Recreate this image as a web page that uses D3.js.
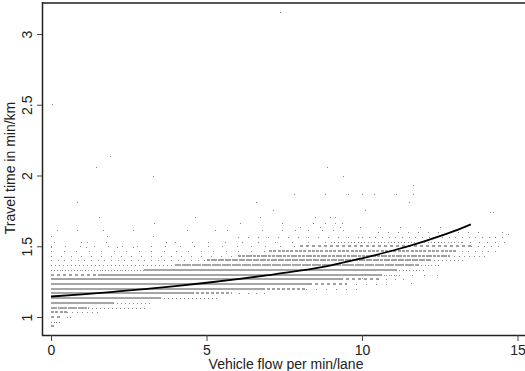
<!DOCTYPE html>
<head>
  <meta charset="utf-8">
  <style>
  body { margin: 0; background: #fff; }
  * { font-family: "Liberation Sans", Arial, sans-serif; }
  .tick text { font-size: 14px; fill: #222; }
  .row { fill: none; shape-rendering: crispEdges; }
  .dot { fill: #888; shape-rendering: crispEdges; }
  .fit { fill: none; stroke: #000; stroke-width: 1.8; }
  </style>
  <title>Travel time vs flow</title>
</head>
<body>
<svg width="525" height="371"></svg>
<script src="https://d3js.org/d3.v7.min.js"></script>
<script>
// travel time levels are in steps of 2 seconds; each row lists [flowFrom, flowTo, density]
var rowSeconds = [56, 58, 60, 62, 64, 66, 68, 70, 72, 74, 76, 78, 80, 82, 84, 86, 88, 90, 92, 94, 96, 98];
var rowSegments = [
  [[0, 0.15, 0.5]],
  [[0, 0.3, 0.4]],
  [[0, 0.3, 0.5], [0.5, 0.6, 0.4]],
  [[0, 0.5, 0.7], [0.5, 1.5, 0.2]],
  [[0, 1.2, 0.9], [1.2, 3.0, 0.25]],
  [[0, 2.0, 0.95], [2.0, 3.2, 0.25]],
  [[0, 3.5, 0.95], [3.5, 5.3, 0.25]],
  [[0, 4.5, 1], [4.5, 5.8, 0.6], [5.8, 7, 0.12]],
  [[0, 6.8, 1], [6.8, 8.2, 0.6], [8.2, 10, 0.1]],
  [[0, 8.3, 1], [8.3, 9.5, 0.5], [9.5, 11, 0.1]],
  [[0, 9.3, 1], [9.3, 10.5, 0.5], [10.5, 11.5, 0.12]],
  [[0, 1.5, 0.5], [1.5, 10.6, 1], [10.6, 11.2, 0.4], [11.2, 12.5, 0.08]],
  [[0, 3, 0.35], [3, 11.1, 0.95], [11.1, 12, 0.3]],
  [[0, 4, 0.25], [4, 11.8, 0.9], [11.8, 12.5, 0.3]],
  [[0, 5, 0.15], [5, 12.2, 0.85], [12.2, 13.2, 0.25]],
  [[0, 6, 0.1], [6, 12.8, 0.8], [12.8, 14, 0.2]],
  [[0, 7, 0.08], [7, 13, 0.7], [13, 14.3, 0.15]],
  [[0, 8, 0.07], [8, 13.5, 0.5], [13.5, 14.5, 0.15]],
  [[4, 9, 0.06], [9, 13.2, 0.3], [13.2, 14.6, 0.12]],
  [[6, 10, 0.1], [10, 14.7, 0.15]],
  [[10.5, 14, 0.1]],
  [[8, 13, 0.05]]
];

// scattered single observations
var outFlow = [0.03, 1.9, 1.45, 3.29, 7.36, 8.86, 9.4, 11.63,
  7.81, 8.81, 9.54, 9.99, 10.4, 11.08, 11.63, 11.5, 10.1, 14.1, 14.2,
  0.83, 1.53, 3.31, 0.2, 0.83, 1.68, 2.65, 0.01, 1.79, 3.27, 0.1, 0.95, 1.17, 1.77, 3.7, 0, 1.14, 2.13, 2.65,
  6.6, 7.15, 4.63, 6.72, 8.49, 8.97, 9.13, 6.08, 7.42, 8.43, 8.81, 9.13, 9.35,
  4.36, 5.27, 5.65, 6.77, 7.42, 7.85, 8.26, 8.7, 9.08, 9.4, 9.99, 11.57, 14.5, 14.7];
var outTime = [2.505, 2.14, 2.062, 2.0, 3.155, 2.062, 2.0, 1.93,
  1.867, 1.867, 1.867, 1.867, 1.867, 1.867, 1.867, 1.815, 1.756, 1.745, 1.74,
  1.815, 1.705, 1.667, 1.615, 1.615, 1.615, 1.615, 1.575, 1.575, 1.575, 1.532, 1.532, 1.532, 1.532, 1.532, 1.492, 1.492, 1.492, 1.492,
  1.815, 1.756, 1.709, 1.709, 1.709, 1.709, 1.709, 1.662, 1.662, 1.662, 1.662, 1.662, 1.662,
  1.615, 1.615, 1.615, 1.615, 1.615, 1.615, 1.615, 1.615, 1.615, 1.615, 1.273, 1.242, 1.6, 1.585];

// fitted curve
var fitFlow = [0, 1, 2, 3, 4, 5, 6, 7, 8, 9, 10, 11, 12, 13, 13.5];
var fitTime = [1.145, 1.16, 1.178, 1.197, 1.218, 1.242, 1.268, 1.296, 1.327, 1.365, 1.415, 1.47, 1.535, 1.61, 1.655];

var xTicks = [0, 5, 10, 15];
var yTicks = [1, 1.5, 2, 2.5, 3];

var svg = d3.select("svg");
var plotLeft = 42, plotRight = 525, plotTop = 2, plotBottom = 335;

var x = d3.scaleLinear().domain([0, 15]).range([51, 517.5]);
var y = d3.scaleLinear().domain([1, 3]).range([317, 34]);

// rows of observations
var rows = [];
rowSeconds.forEach(function(s, i) {
  rowSegments[i].forEach(function(seg) {
    rows.push({t: s / 60, x0: seg[0], x1: seg[1], d: seg[2]});
  });
});

svg.append("g")
  .selectAll("line")
  .data(rows)
  .enter().append("line")
    .attr("class", "row")
    .attr("x1", function(d) { return Math.round(x(d.x0)); })
    .attr("x2", function(d) { return Math.round(x(d.x1)) + 1; })
    .attr("y1", function(d) { return Math.round(y(d.t)) + (d.d >= 0.5 ? 0 : 0.5); })
    .attr("y2", function(d) { return Math.round(y(d.t)) + (d.d >= 0.5 ? 0 : 0.5); })
    .attr("stroke-width", function(d) { return d.d >= 0.5 ? 2 : 1; })
    .attr("stroke", function(d) { return d.d >= 0.9 ? "#a6a6a6" : d.d >= 0.5 ? "#a0a0a0" : "#8c8c8c"; })
    .attr("stroke-dasharray", function(d) {
      if (d.d >= 0.95) return null;
      if (d.d >= 0.5) return "3," + (3 / d.d - 3).toFixed(2);
      return "1," + (1 / d.d - 1).toFixed(2);
    });

svg.append("g")
  .selectAll("rect")
  .data(outFlow.map(function(f, i) { return [f, outTime[i]]; }))
  .enter().append("rect")
    .attr("class", "dot")
    .attr("x", function(d) { return Math.round(x(d[0])); })
    .attr("y", function(d) { return Math.round(y(d[1])); })
    .attr("width", 1)
    .attr("height", 1);

// fitted line
svg.append("path")
  .datum(fitFlow.map(function(f, i) { return [f, fitTime[i]]; }))
  .attr("class", "fit")
  .attr("d", d3.line()
    .x(function(d) { return x(d[0]); })
    .y(function(d) { return y(d[1]); })
    .curve(d3.curveMonotoneX));

// frame
svg.append("line")
  .attr("x1", plotLeft).attr("x2", plotRight).attr("y1", plotTop + 1).attr("y2", plotTop + 1)
  .attr("stroke", "#555").attr("stroke-width", 2);

var xAxis = svg.append("g")
  .attr("transform", "translate(0," + plotBottom + ")")
  .call(d3.axisBottom(x).tickValues(xTicks).tickSize(6).tickPadding(4).tickFormat(d3.format("d")));
xAxis.select(".domain").attr("d", "M" + plotLeft + ",0.5H" + plotRight).attr("stroke", "#222").attr("stroke-width", 1.5);
xAxis.selectAll(".tick line").attr("stroke", "#444");

var yAxis = svg.append("g")
  .attr("transform", "translate(" + plotLeft + ",0)")
  .call(d3.axisLeft(y).tickValues(yTicks).tickSize(5).tickPadding(0).tickFormat(function(d) { return d; }));
yAxis.select(".domain").attr("d", "M0.5," + plotTop + "V" + (plotBottom + 1)).attr("stroke", "#222").attr("stroke-width", 1.5);
yAxis.selectAll(".tick line").attr("stroke", "#444");
yAxis.selectAll(".tick text")
  .attr("x", null).attr("dy", null)
  .attr("text-anchor", "middle")
  .attr("transform", "translate(-10,0) rotate(-90)");

svg.append("text")
  .attr("x", 286).attr("y", 369)
  .attr("text-anchor", "middle")
  .style("font-size", "14px").style("fill", "#222")
  .text("Vehicle flow per min/lane");

svg.append("text")
  .attr("transform", "translate(15,168) rotate(-90)")
  .attr("text-anchor", "middle")
  .style("font-size", "14px").style("fill", "#222")
  .text("Travel time in min/km");
</script>
</body>
